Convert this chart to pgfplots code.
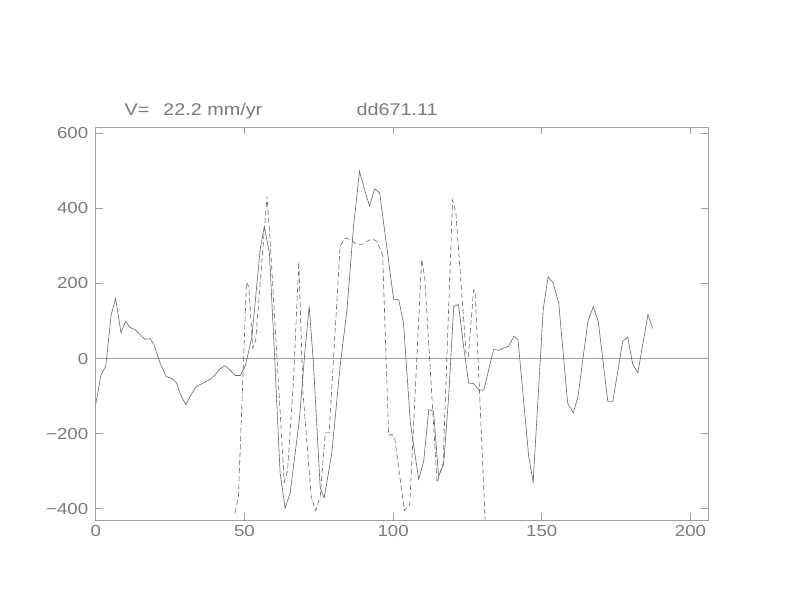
\documentclass[border=0pt]{standalone}
\usepackage{pgfplots}
\pgfplotsset{compat=1.18}
\usepackage{fontspec}
\setmainfont{Liberation Sans}[FakeStretch=1.17]
\definecolor{axgray}{HTML}{A0A0A0}
\definecolor{txtgray}{HTML}{7A7A7A}
\definecolor{lngray}{HTML}{666666}
\begin{document}
\begin{tikzpicture}
\useasboundingbox (0,0) rectangle (792bp,612bp);
\begin{axis}[
  name=ax,
  at={(95.7bp,92bp)}, anchor=south west,
  scale only axis, width=612.6bp, height=392.7bp,
  xmin=0, xmax=206, ymin=-430, ymax=616,
  axis line style={axgray, line width=0.6bp},
  tick style={axgray, line width=0.6bp},
  major tick length=7bp,
  tick align=inside,
  xtick={0,50,100,150,200},
  xticklabels={0,50,100,150,200},
  ytick={-400,-200,0,200,400,600},
  yticklabels={−400,−200,0,200,400,600},
  tick label style={font=\fontsize{16}{18}\selectfont, text=txtgray},
  xticklabel style={yshift=-2bp},
  yticklabel style={xshift=-4bp},
  clip=true,
]
\addplot[axgray, line width=0.6bp] coordinates {(0,0) (206,0)};
\addplot[lngray, line width=0.6bp] coordinates {
(0,-122) (1.8,-43) (3.4,-20) (5.2,117) (6.7,160) (8.5,69) (10.1,99) (11.5,83)
(13.2,77) (14.9,64) (16.6,51) (18.3,53) (19.6,37) (21.6,-11) (23.7,-48) (25.6,-53)
(27.2,-65) (28.7,-100) (30.3,-122) (32.1,-96) (33.8,-74) (35.7,-67) (37.4,-60)
(38.7,-54) (40.2,-43) (41.8,-27) (43.5,-19) (45.2,-31) (46.9,-45) (48.6,-45)
(50.3,-20) (52.5,56) (55.3,290) (56.7,352) (58.4,282) (60.1,16) (62.0,-304)
(63.7,-399) (65.4,-357) (68.5,-162) (70.4,24) (71.8,139) (73.2,-11) (75.5,-345)
(76.8,-371) (77.7,-331) (79.4,-251) (82.2,-20) (84.5,130) (86.7,352) (88.7,499)
(90.4,450) (92.1,406) (93.8,452) (95.5,441) (97.4,326) (100.2,157) (101.9,157)
(103.5,95) (105.8,-170) (108.6,-322) (110.3,-273) (112.0,-136) (113.6,-140)
(115.3,-313) (117.0,-282) (118.7,-100) (120.4,139) (122.0,144) (123.7,33)
(125.4,-65) (127.1,-67) (128.8,-83) (130.5,-84) (133.8,24) (135.5,22) (137.2,28)
(138.9,33) (140.6,59) (142.0,51) (145.6,-260) (147.1,-329) (150.5,132) (152.1,217)
(153.8,202) (155.7,148) (158.7,-118) (160.6,-145) (162.2,-100) (165.5,99)
(167.3,138) (169.0,99) (172.2,-114) (173.9,-114) (177.2,46) (178.9,57) (180.6,-16)
(182.3,-38) (185.7,117) (187.3,80)
};
\addplot[lngray, line width=0.6bp, dash pattern=on 5bp off 3bp] coordinates {
(46.9,-411) (48.0,-367) (50.7,204) (51.5,190) (52.8,28) (53.8,48) (57.6,432)
(58.7,309) (63.4,-330) (64.5,-300) (66.5,-60) (68.3,259) (69.7,-91) (72.5,-370)
(74.0,-405) (75.5,-367) (77.2,-198) (78.5,-198) (82.2,300) (83.9,321) (85.6,317)
(87.8,304) (89.5,304) (91.2,312) (92.9,319) (94.6,312) (96.5,275) (98.5,-205)
(99.6,-202) (100.5,-209) (103.8,-405) (105.6,-389) (109.6,264) (110.6,220)
(114.8,-330) (116.8,-280) (120.0,423) (121.1,390) (124.6,10) (125.3,6)
(127.1,184) (127.6,178) (131.0,-440)
};
\end{axis}
\node[anchor=base west, text=txtgray, font=\fontsize{17}{19}\selectfont]
  at ([xshift=25.4bp, yshift=12bp]ax.north west) {V=\ \ \,22.2 mm/yr};
\node[anchor=base west, text=txtgray, font=\fontsize{17}{19}\selectfont]
  at ([xshift=257.3bp, yshift=12bp]ax.north west) {dd671.11};
\end{tikzpicture}
\end{document}
